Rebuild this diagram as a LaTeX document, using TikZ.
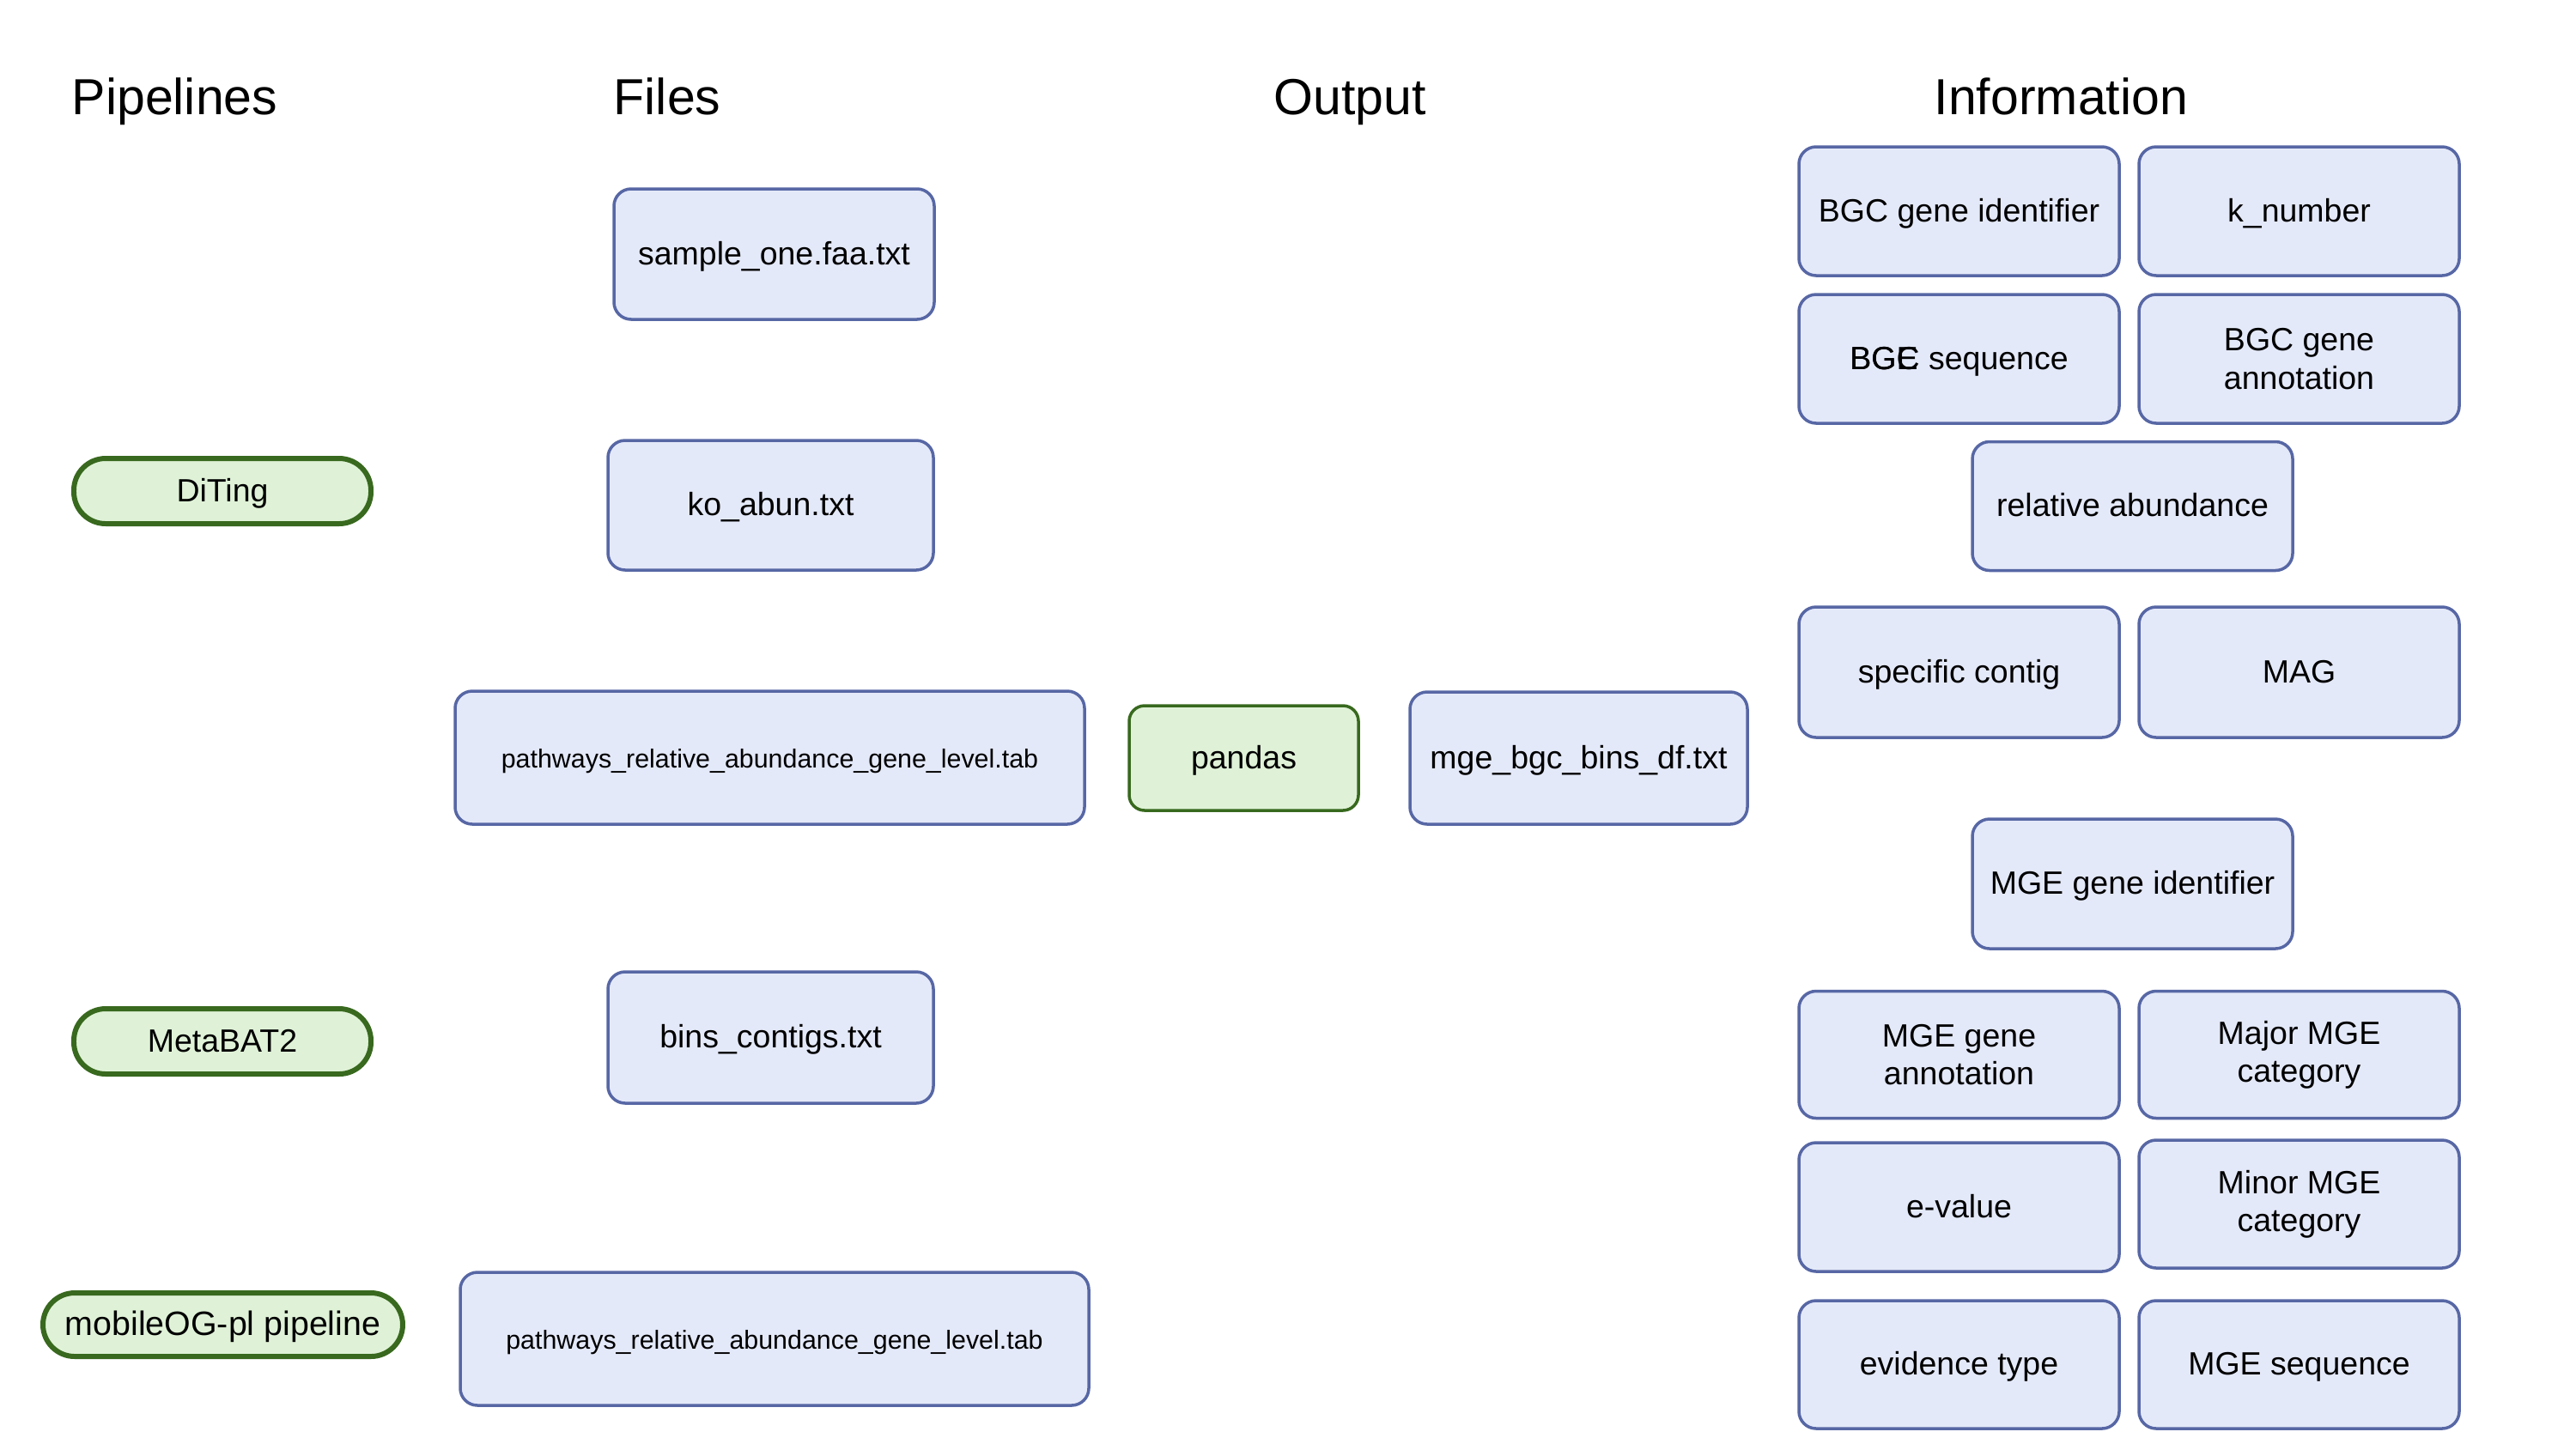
\documentclass[tikz,border=0pt]{standalone}
\usepackage{fontspec}
\setmainfont{Liberation Sans}
\definecolor{bfill}{HTML}{E4E9F9}
\definecolor{bdraw}{HTML}{5767A5}
\definecolor{gfill}{HTML}{DFF2D7}
\definecolor{gdraw}{HTML}{38691E}
\newcommand{\titlefont}{\fontsize{16.8}{20}\selectfont}
\newcommand{\nodefont}{\fontsize{10.67}{12.6}\selectfont}
\newcommand{\smallnodefont}{\fontsize{8.65}{10.4}\selectfont}
\tikzset{
  coltitle/.style={anchor=base west, inner sep=0pt, font=\titlefont},
  boxtext/.style={text height=0.9em, text depth=0.2em},
  twoline/.style={text height=, text depth=},
  bluebox/.style={draw=bdraw, fill=bfill, line width=1pt, rounded corners=0.2cm,
    inner sep=0pt, align=center, font=\nodefont, boxtext, minimum width=3.73cm, minimum height=1.5cm},
  pipebox/.style={draw=gdraw, fill=gfill, line width=1.7pt, rounded corners=0.37cm,
    inner sep=0pt, align=center, font=\nodefont, boxtext, minimum width=3.46cm, minimum height=0.76cm},
  toolbox/.style={draw=gdraw, fill=gfill, line width=1pt, rounded corners=0.18cm,
    inner sep=0pt, align=center, font=\nodefont, boxtext, minimum width=2.67cm, minimum height=1.22cm}
}
\begin{document}
\begin{tikzpicture}
\useasboundingbox (0,0) rectangle (30,-16.88);
% column titles
\node[coltitle] (tpipe) at (0.83,-1.33) {Pipelines};
\node[coltitle] (tfiles) at (7.14,-1.33) {Files};
\node[coltitle] (tout) at (14.83,-1.33) {Output};
\node[coltitle] (tinfo) at (22.52,-1.33) {Information};
% pipelines
\node[pipebox] (diting) at (2.59,-5.72) {DiTing};
\node[pipebox] (metabat) at (2.59,-12.13) {MetaBAT2};
\node[pipebox, minimum width=4.19cm, minimum height=0.74cm, font=\fontsize{11.2}{13}\selectfont] (mobileog) at (2.595,-15.43) {mobileOG-pl pipeline};
% files
\node[bluebox, minimum height=1.52cm] (f1) at (9.015,-2.96) {sample\_one.faa.txt};
\node[bluebox, minimum width=3.79cm, minimum height=1.51cm] (f2) at (8.975,-5.885) {ko\_abun.txt};
\node[bluebox, minimum width=7.33cm, minimum height=1.55cm, font=\smallnodefont] (f3) at (8.965,-8.825) {pathways\_relative\_abundance\_gene\_level.tab};
\node[bluebox, minimum width=3.79cm, minimum height=1.53cm] (f4) at (8.975,-12.085) {bins\_contigs.txt};
\node[bluebox, minimum width=7.32cm, minimum height=1.55cm, font=\smallnodefont] (f5) at (9.02,-15.595) {pathways\_relative\_abundance\_gene\_level.tab};
% output
\node[toolbox] (pandas) at (14.485,-8.83) {pandas};
\node[bluebox, minimum width=3.93cm, minimum height=1.54cm] (mge) at (18.385,-8.83) {mge\_bgc\_bins\_df.txt};
% information
\node[bluebox] (i1) at (22.815,-2.46) {BGC gene identifier};
\node[bluebox] (i2) at (26.775,-2.46) {k\_number};
\node[bluebox] (i3) at (22.815,-4.18) {\rlap{BGE}BGC sequence};
\node[bluebox, twoline] (i4) at (26.775,-4.18) {BGC gene\\annotation};
\node[bluebox] (i5) at (24.835,-5.895) {relative abundance};
\node[bluebox, minimum height=1.52cm] (i6) at (22.815,-7.83) {specific contig};
\node[bluebox, minimum height=1.52cm] (i7) at (26.775,-7.83) {MAG};
\node[bluebox, minimum height=1.51cm] (i8) at (24.835,-10.295) {MGE gene identifier};
\node[bluebox, twoline, minimum height=1.48cm] (i9) at (22.815,-12.285) {MGE gene\\annotation};
\node[bluebox, twoline, minimum height=1.48cm] (i10) at (26.775,-12.285) {Major MGE\\category};
\node[bluebox] (i11) at (22.815,-14.06) {e-value};
\node[bluebox, twoline, minimum height=1.49cm] (i12) at (26.775,-14.025) {Minor MGE\\category};
\node[bluebox, minimum height=1.49cm] (i13) at (22.815,-15.895) {evidence type};
\node[bluebox, minimum height=1.49cm] (i14) at (26.775,-15.895) {MGE sequence};
\end{tikzpicture}
\end{document}
